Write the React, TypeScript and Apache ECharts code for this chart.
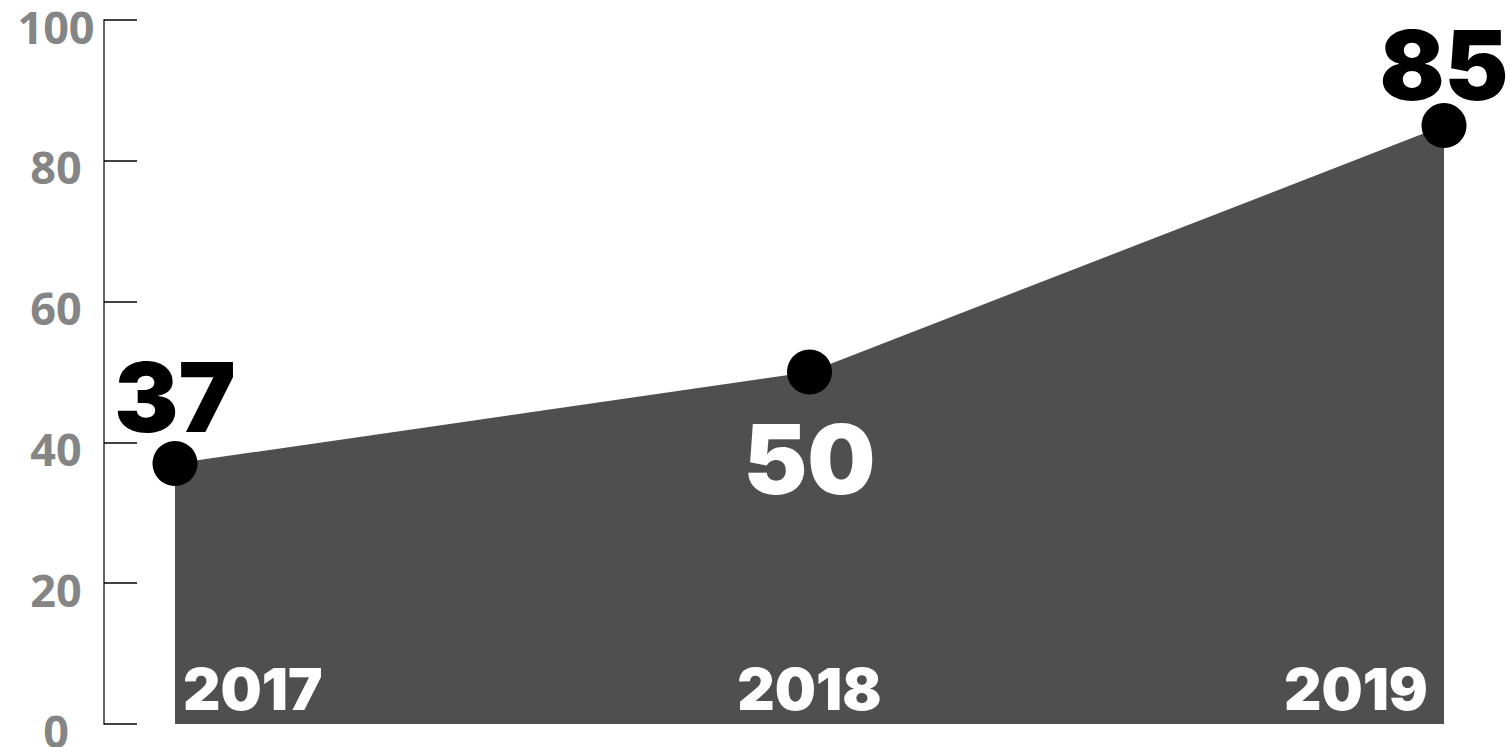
import React, { useEffect, useRef } from "react";
import * as echarts from "echarts";

const years = ["2017", "2018", "2019"];
const values = [37, 50, 85];
const labelPositions = ["top", "bottom", "top"];
const labelColors = ["#000000", "#ffffff", "#000000"];
const labelDistances = [-4, 16, -10];

const HEAVY = "Inter, Lato, Roboto, sans-serif";

export default function App() {
  const ref = useRef<HTMLDivElement>(null);
  useEffect(() => {
    if (!ref.current) return;
    const chart = echarts.init(ref.current, undefined, { renderer: "svg" });
    const yl = { color: "#858585", fontFamily: "'Open Sans', sans-serif", fontWeight: "bold", fontSize: 45 };
    const xl = { color: "#ffffff", fontFamily: HEAVY, fontWeight: 900, fontSize: 58 };
    chart.setOption({
      animation: false,
      backgroundColor: "#ffffff",
      grid: {
        left: 175,
        right: 66,
        top: 20,
        bottom: 23,
        containLabel: false,
        outerBoundsMode: "none",
      },
      xAxis: {
        type: "category",
        data: years,
        boundaryGap: false,
        z: 10,
        axisLine: { show: false },
        axisTick: { show: false },
        splitLine: { show: false },
        axisLabel: {
          inside: true,
          margin: 6,
          ...xl,
          alignMinLabel: "left",
          alignMaxLabel: "right",
          formatter: (v: string, i: number) =>
            i === 0 ? `{a|${v}}` : i === years.length - 1 ? `{c|${v}}` : `{b|${v}}`,
          rich: {
            a: { ...xl, padding: [0, 0, 0, 8] },
            b: { ...xl },
            c: { ...xl, padding: [0, 16, 0, 0] },
          },
        },
      },
      yAxis: {
        type: "value",
        min: 0,
        max: 100,
        interval: 20,
        offset: 71,
        axisLine: { show: true, lineStyle: { color: "#666666", width: 2 } },
        axisTick: { show: true, inside: true, length: 33, lineStyle: { color: "#000000", width: 1.5 } },
        splitLine: { show: false },
        axisLabel: {
          ...yl,
          align: "center",
          margin: 48,
          formatter: (v: number) => `{a|${v}}`,
          rich: { a: { ...yl, padding: [12, 0, 0, 0] } },
        },
      },
      series: [
        {
          type: "line",
          data: values.map((v, i) => ({
            value: v,
            label: {
              position: labelPositions[i],
              color: labelColors[i],
              distance: labelDistances[i],
            },
          })),
          symbol: "circle",
          symbolSize: 45,
          itemStyle: { color: "#000000" },
          lineStyle: { width: 0 },
          areaStyle: { color: "#4f4f4f", opacity: 1 },
          label: {
            show: true,
            fontFamily: HEAVY,
            fontWeight: 900,
            fontSize: 96,
          },
          z: 2,
        },
      ],
    });
    return () => chart.dispose();
  }, []);
  return (
    <div
      ref={ref}
      style={{ position: "fixed", left: 0, top: 0, width: 1510, height: 747 }}
    />
  );
}
